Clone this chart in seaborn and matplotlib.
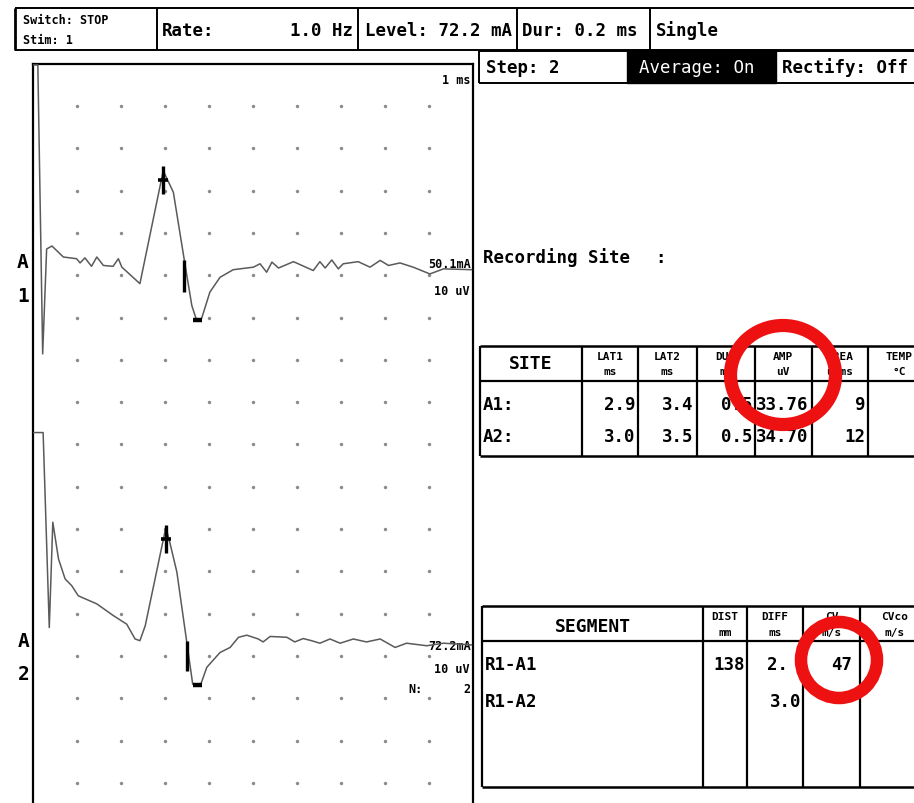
import numpy as np
import pandas as pd
import matplotlib
matplotlib.use("Agg")
import matplotlib.pyplot as plt
from matplotlib.patches import Rectangle, Ellipse
import seaborn as sns

# ------------------------------------------------------------------ data
# trace A1 : time (ms) and amplitude (uV, relative to its baseline)
a1_time = [0.0, 0.11, 0.22, 0.31, 0.43, 0.69, 0.99, 1.07, 1.18, 1.33, 1.45, 1.60,
           1.82, 1.94, 2.02, 2.43, 2.96, 3.19, 3.44, 3.61, 3.72, 3.83, 4.02, 4.25,
           4.55, 5.01, 5.16, 5.31, 5.43, 5.58, 5.92, 6.37, 6.52, 6.64, 6.79, 6.94,
           7.05, 7.39, 7.66, 7.89, 8.08, 8.34, 8.64, 9.02, 9.33, 9.97]
a1_uv = [46.3, 46.3, -22.0, 2.8, 3.5, 0.9, 0.5, -0.5, 0.7, -1.3, 0.9, -1.1,
         -1.3, 0.5, -1.5, -5.4, 21.3, 16.2, 0.1, -10.6, -14.1, -13.7, -7.4, -3.9,
         -2.1, -1.5, -0.7, -2.7, -0.3, -1.7, -0.2, -2.3, -0.2, -1.7, 0.2, -1.9,
         -0.7, -0.2, -1.5, 0.1, -1.1, -0.5, -1.5, -3.1, -1.9, -2.1]
# trace A2
a2_time = [0.0, 0.23, 0.37, 0.45, 0.58, 0.73, 0.88, 1.03, 1.45, 1.83, 2.13, 2.32,
           2.43, 2.55, 3.02, 3.11, 3.27, 3.49, 3.63, 3.80, 3.95, 4.25, 4.48, 4.67,
           4.86, 5.12, 5.23, 5.39, 5.77, 5.95, 6.14, 6.33, 6.52, 6.75, 6.98, 7.28,
           7.58, 7.89, 8.23, 8.49, 8.95, 9.33, 9.97]
a2_uv = [50.0, 50.0, 3.9, 28.8, 20.1, 15.4, 13.8, 11.4, 9.5, 6.7, 4.7, 1.2,
         0.8, 4.3, 27.6, 24.0, 17.0, 0.8, -9.5, -9.9, -5.5, -2.0, -0.8, 1.6,
         2.1, 1.2, 0.5, 1.8, 1.6, 0.5, 1.3, 0.8, 0.2, 1.2, 0.2, 1.2,
         0.5, 1.2, -0.8, 0.2, -0.4, 0.2, -0.2]
trace_names = ["A1", "A2"]
trace_base_div = [4.66, 13.72]          # baseline position (grid divisions from top)
uv_per_div = 10.0                        # 10 uV / division
ms_per_div = 1.0

# cursors
peak_t = [2.96, 3.02]
peak_uv = [19.2, 24.8]
lat2_t = [3.44, 3.49]
lat2_top_uv = [0.1, 0.8]
lat2_bot_uv = [-7.4, -6.3]
trough_t = [3.74, 3.74]
trough_uv = [-14.1, -9.7]

# header texts
top_cells = ["Rate:", "1.0 Hz", "Level: 72.2 mA", "Dur: 0.2 ms", "Single"]
step_cells = ["Step: 2", "Average: On", "Rectify: Off"]
trace_info = [["50.1mA", "10 uV"], ["72.2mA", "10 uV"]]

# site table
site_hdr_top = ["LAT1", "LAT2", "DUR", "AMP", "AREA", "TEMP"]
site_hdr_unit = ["ms", "ms", "ms", "uV", "uVms", "°C"]
site_rows = ["A1:", "A2:"]
lat1 = ["2.9", "3.0"]
lat2 = ["3.4", "3.5"]
dur = ["0.5", "0.5"]
amp = ["33.76", "34.70"]
area = ["9", "12"]
temp = ["", ""]

# segment table
seg_hdr_top = ["DIST", "DIFF", "CV", "CVco"]
seg_hdr_unit = ["mm", "ms", "m/s", "m/s"]
segments = ["R1-A1", "R1-A2"]
dist = ["138", ""]
diff = ["2.", "3.0"]
cv = ["47", ""]

# ------------------------------------------------------------------ figure
sns.set_theme(style="white")
plt.rcParams['font.family'] = ['DejaVu Sans Mono', 'DejaVu Sans']

W, H = 914, 804
fig = plt.figure(figsize=(W / 100, H / 100), dpi=100)
fig.patch.set_facecolor("white")

ov = fig.add_axes([0, 0, 1, 1])
ov.set_xlim(0, W)
ov.set_ylim(H, 0)
ov.axis("off")

MAIN = 12.5
MW = "bold"


def L(xs, ys, lw=1.4, c="black", z=3):
    ov.plot(xs, ys, color=c, lw=lw, solid_capstyle="butt", zorder=z)


def T(x, y, s, size=MAIN, ha="left", weight=MW, color="black", z=4):
    ov.text(x, y, s, fontsize=size, ha=ha, va="center", fontweight=weight,
            color=color, zorder=z)


# ---- top status bar
L([15, W], [8.5, 8.5]); L([15, W], [50.5, 50.5])
L([15, 15], [8.5, 50.5], lw=2.0)
for xd in [156.7, 358.3, 517.0, 649.5]:
    L([xd, xd], [8.5, 50.5])
T(23, 21, "Switch: STOP", size=8.5)
T(23, 40, "Stim: 1", size=8.5)
T(162, 31, top_cells[0])
T(353, 31, top_cells[1], ha="right")
T(365, 31, top_cells[2])
T(522, 31, top_cells[3])
T(656, 31, top_cells[4])

# ---- step row
L([479, W], [52, 52]); L([479, W], [83.5, 83.5]); L([479, 479], [52, 83.5])
ov.add_patch(Rectangle((627, 52), 149, 31.5, facecolor="black", edgecolor="black", zorder=3))
T(486, 68, step_cells[0])
T(639, 68, step_cells[1], color="white", weight="normal")
T(782, 68, step_cells[2])

# ---- right panel texts
T(483, 258, "Recording Site")
T(655, 258, ":")

# ---- site table
x1 = [480, 581.7, 638.3, 696.7, 755, 811.7, 868.3, 930]
yt, yh, yb = 346.7, 381.7, 456.7
L([480, W], [yt, yt], lw=1.8); L([480, W], [yh, yh], lw=1.6); L([480, W], [yb, yb], lw=1.8)
for xd in x1[:-1]:
    L([xd, xd], [yt, yb], lw=1.6)
T((x1[0] + x1[1]) / 2, 364, "SITE", size=13, ha="center")
for i in range(6):
    cx = (x1[i + 1] + x1[i + 2]) / 2
    T(cx, 357, site_hdr_top[i], size=8, ha="center")
    T(cx, 372, site_hdr_unit[i], size=8, ha="center")
row_y = [405, 437]
cols = [lat1, lat2, dur, amp, area, temp]
for r in range(2):
    T(483, row_y[r], site_rows[r])
    for i, col in enumerate(cols):
        T(x1[i + 2] - 3, row_y[r], col[r], ha="right")

# ---- segment table
x2 = [481.7, 703.3, 746.7, 803.3, 860, 930]
st, sh, sb = 606.7, 641.7, 788.3
L([481.7, W], [st, st], lw=1.8); L([481.7, W], [sh, sh], lw=1.6); L([481.7, W], [sb, sb], lw=1.8)
for xd in x2[:-1]:
    L([xd, xd], [st, sb], lw=1.6)
T((x2[0] + x2[1]) / 2, 627, "SEGMENT", size=13, ha="center")
for i in range(4):
    cx = (x2[i + 1] + x2[i + 2]) / 2
    T(cx, 617, seg_hdr_top[i], size=8, ha="center")
    T(cx, 633, seg_hdr_unit[i], size=8, ha="center")
seg_y = [665, 702]
for r in range(2):
    T(485, seg_y[r], segments[r])
    T(x2[2] - 2, seg_y[r], dist[r], ha="right")
    if r == 0:
        T(767, seg_y[r], diff[r])
    else:
        T(x2[3] - 2, seg_y[r], diff[r], ha="right")
    T(x2[4] - 8, seg_y[r], cv[r], ha="right")

# ---- red annotation rings
ov.add_patch(Ellipse((783, 376), 105, 99, fill=False, edgecolor="#ee1111", lw=9.5, zorder=6))
ov.add_patch(Ellipse((839, 661), 76, 76, fill=False, edgecolor="#ee1111", lw=9, zorder=6))

# ------------------------------------------------------------------ trace panel
DIV = 42.3
TOP = 64.7
ax = fig.add_axes([33 / W, 0, (473 - 33) / W, (H - TOP) / H])
ax.patch.set_alpha(0)
ax.set_xlim(0, 10 * ms_per_div)
ax.set_ylim((H - TOP) / DIV, 0)

frames = []
for name, t, uv, base in zip(trace_names, [a1_time, a2_time], [a1_uv, a2_uv], trace_base_div):
    d = pd.DataFrame({"t": t, "uv": uv})
    d["div"] = base - d["uv"] / uv_per_div
    d["trace"] = name
    frames.append(d)
traces = pd.concat(frames, ignore_index=True)

gx, gy = np.meshgrid(np.arange(1, 10), np.arange(1, 18))
grid = pd.DataFrame({"t": gx.ravel() * ms_per_div, "div": gy.ravel()})
sns.scatterplot(data=grid, x="t", y="div", s=6, color="#8a8a8a", linewidth=0, ax=ax, zorder=2)
sns.lineplot(data=traces, x="t", y="div", units="trace", estimator=None, sort=False,
             color="#5a5a5a", lw=1.1, ax=ax, zorder=3)

# cursors
for i, base in enumerate(trace_base_div):
    py = base - peak_uv[i] / uv_per_div
    ax.vlines(peak_t[i], py - 0.33, py + 0.33, color="black", lw=2.4, zorder=4)
    ax.hlines(py, peak_t[i] - 0.11, peak_t[i] + 0.11, color="black", lw=2.6, zorder=4)
    ax.vlines(lat2_t[i], base - lat2_top_uv[i] / uv_per_div, base - lat2_bot_uv[i] / uv_per_div,
              color="black", lw=2.4, zorder=4)
    ty = base - trough_uv[i] / uv_per_div
    ax.hlines(ty, trough_t[i] - 0.11, trough_t[i] + 0.11, color="black", lw=3.2, zorder=4)

ax.set_xticks([]); ax.set_yticks([])
ax.set_xlabel(""); ax.set_ylabel("")
for side in ["top", "left", "right"]:
    ax.spines[side].set_visible(True)
    ax.spines[side].set_color("black")
    ax.spines[side].set_linewidth(1.6)
ax.spines["bottom"].set_visible(False)

# panel labels
T(470, 80, "1 ms", size=8.5, ha="right")
T(471, 265, trace_info[0][0], size=8.5, ha="right")
T(470, 292, trace_info[0][1], size=8.5, ha="right")
T(471, 647, trace_info[1][0], size=8.5, ha="right")
T(470, 670, trace_info[1][1], size=8.5, ha="right")
T(408, 690, "N:", size=8.5)
T(471, 690, "2", size=8.5, ha="right")
T(23, 263, "A", size=14, ha="center")
T(23, 297, "1", size=14, ha="center")
T(24, 642, "A", size=14, ha="center")
T(24, 675, "2", size=14, ha="center")

fig.savefig("out.png", dpi=100, facecolor="white")
